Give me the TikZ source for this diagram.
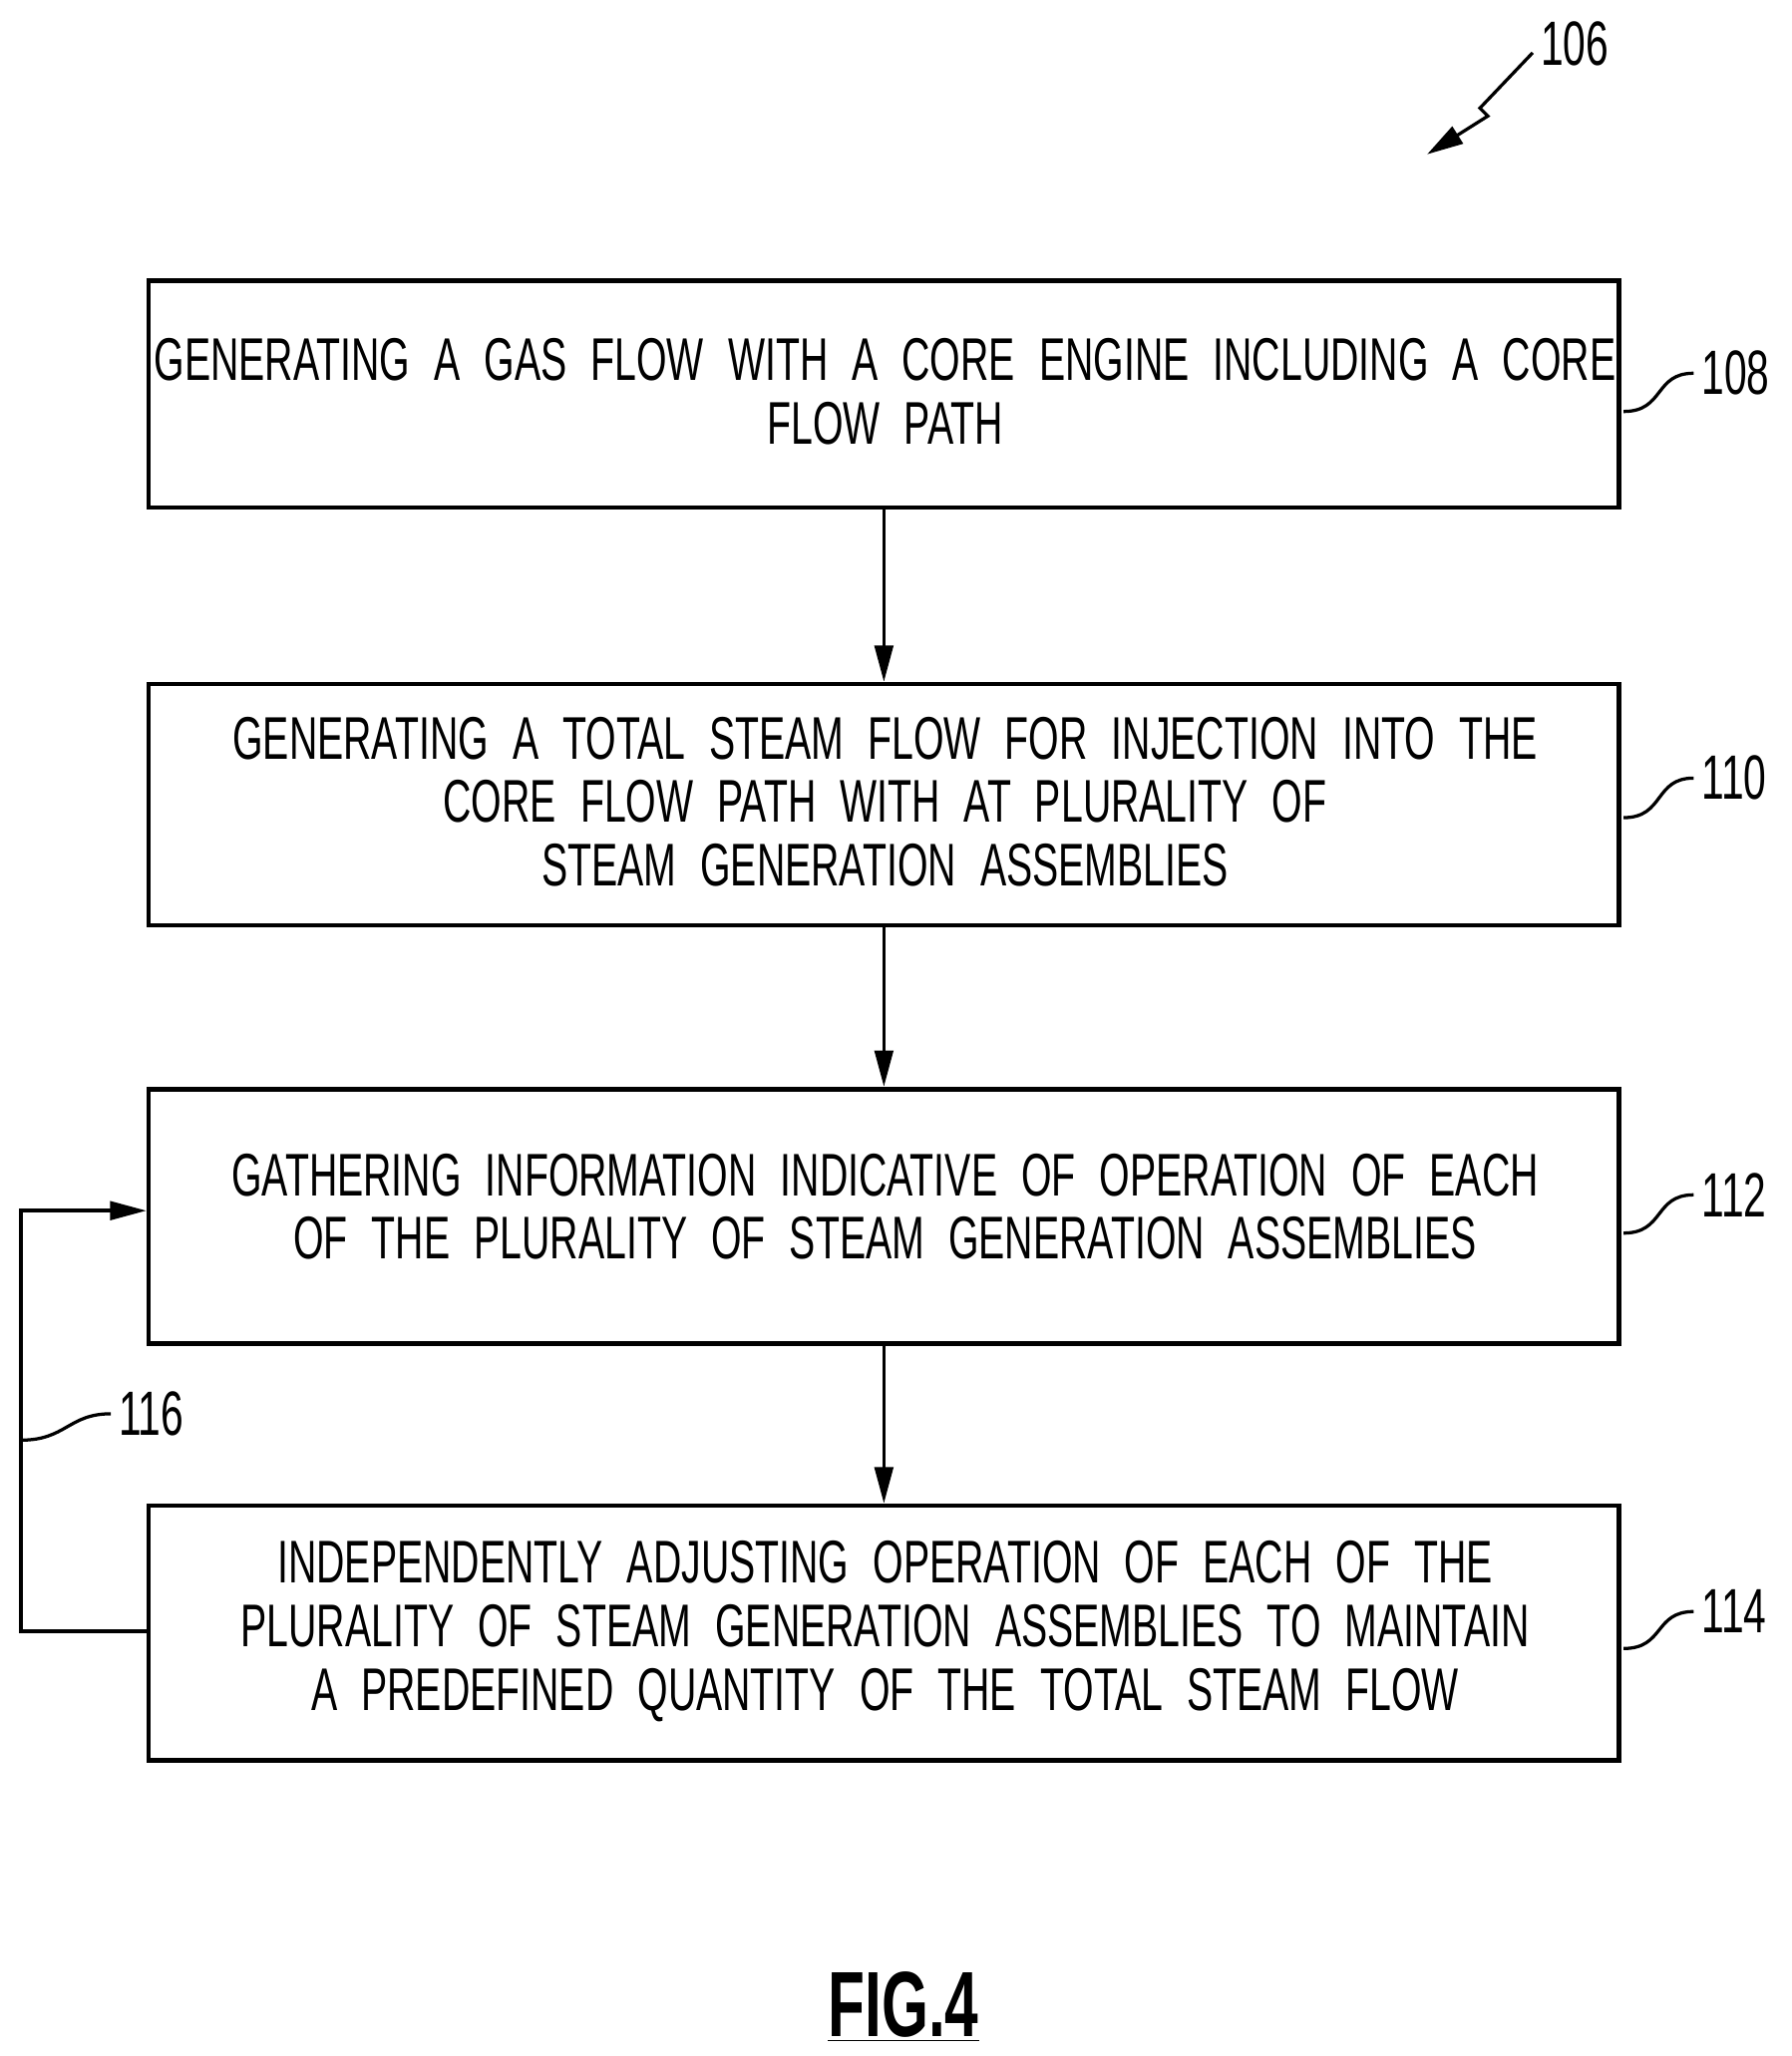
\documentclass[tikz,border=0pt]{standalone}
\usepackage{fontspec}
\setmainfont{Liberation Sans}[FakeStretch=0.65,WordSpace=2.2]
\usetikzlibrary{arrows.meta}
\begin{document}
\begin{tikzpicture}[x=0.02cm,y=-0.02cm,
 box/.style={draw,line width=2pt,minimum width=22.3cm,anchor=north west,inner sep=0},
 txt/.style={align=center,font=\fontsize{26}{27.5}\selectfont},
 lbl/.style={font=\fontsize{27}{30}\selectfont},
 arr/.style={line width=1.5pt,-{Triangle[length=0.55cm,width=0.28cm]}},
 lead/.style={line width=1.4pt}]
\useasboundingbox (0,0) rectangle (1358,1559);
\node[box,minimum height=3.44cm] (b1) at (111,211) {};
\node[box,minimum height=3.66cm] (b2) at (111,517) {};
\node[box,minimum height=3.86cm] (b3) at (111,824) {};
\node[box,minimum height=3.86cm] (b4) at (111,1140) {};
\node[txt] (t1) at (671,297) {GENERATING A GAS FLOW WITH A CORE ENGINE INCLUDING A CORE\\FLOW PATH};
\node[txt] (t2) at (671,608) {GENERATING A TOTAL STEAM FLOW FOR INJECTION INTO THE\\CORE FLOW PATH WITH AT PLURALITY OF\\STEAM GENERATION ASSEMBLIES};
\node[txt] (t3) at (671,915) {GATHERING INFORMATION INDICATIVE OF OPERATION OF EACH\\OF THE PLURALITY OF STEAM GENERATION ASSEMBLIES};
\node[txt] (t4) at (671,1237) {INDEPENDENTLY ADJUSTING OPERATION OF EACH OF THE\\PLURALITY OF STEAM GENERATION ASSEMBLIES TO MAINTAIN\\A PREDEFINED QUANTITY OF THE TOTAL STEAM FLOW};
\draw[arr] (b1.south) -- (b2.north);
\draw[arr] (b2.south) -- (b3.north);
\draw[arr] (b3.south) -- (b4.north);
\coordinate (l1) at (16,1237);
\coordinate (l2) at (16,918);
\coordinate (b3w) at (111,918);
\coordinate (b4w) at (111,1237);
\draw[arr] (b4w) -- (l1) -- (l2) -- (b3w);
\node[lbl,anchor=west] (n108) at (1284,283) {108};
\node[lbl,anchor=west] (n110) at (1284,590) {110};
\node[lbl,anchor=west] (n112) at (1284,906) {112};
\node[lbl,anchor=west] (n114) at (1284,1222) {114};
\node[lbl,anchor=west] (n116) at (84,1072) {116};
\node[lbl,anchor=west] (n106) at (1162,33) {106};
\draw[lead] (1231,312) .. controls (1262,312) and (1254,283) .. (n108.west);
\draw[lead] (1231,620) .. controls (1262,620) and (1254,590) .. (n110.west);
\draw[lead] (1231,935) .. controls (1262,935) and (1254,906) .. (n112.west);
\draw[lead] (1231,1250) .. controls (1262,1250) and (1254,1222) .. (n114.west);
\draw[lead] (16,1092) .. controls (50,1092) and (52,1072) .. (n116.west);
\draw[lead,-{Triangle[length=0.55cm,width=0.3cm]}] (1162,40) -- (1122,82) -- (1128,88) -- (1082,117);
\node[font=\fontsize{40}{44}\selectfont\bfseries] (fig) at (685,1522) {\underline{FIG.4}};
\end{tikzpicture}
\end{document}
